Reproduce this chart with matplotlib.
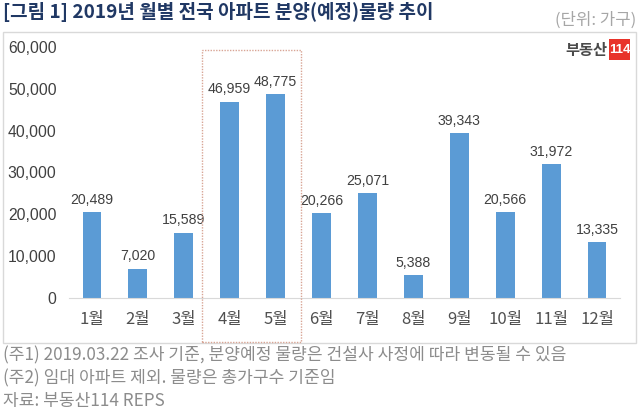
import matplotlib.pyplot as plt
from matplotlib.patches import Rectangle

plt.rcParams['font.family'] = ['Noto Sans CJK KR', 'DejaVu Sans']

months = ["1월", "2월", "3월", "4월", "5월", "6월", "7월", "8월", "9월", "10월", "11월", "12월"]
supply = [20489, 7020, 15589, 46959, 48775, 20266, 25071, 5388, 39343, 20566, 31972, 13335]
yticks = [0, 10000, 20000, 30000, 40000, 50000, 60000]

title = "[그림 1] 2019년 월별 전국 아파트 분양(예정)물량 추이"
unit = "(단위: 가구)"
notes = ["(주1) 2019.03.22 조사 기준, 분양예정 물량은 건설사 사정에 따라 변동될 수 있음",
         "(주2) 임대 아파트 제외. 물량은 총가구수 기준임",
         "자료: 부동산114 REPS"]

W, H = 640, 411
num_font = ["Liberation Sans", "DejaVu Sans"]
fig = plt.figure(figsize=(6.4, 4.11), dpi=100)
fig.patch.set_facecolor("white")

# outer light frame
fig.patches.append(Rectangle((3 / W, 1 - 343 / H), 633 / W, 311 / H, transform=fig.transFigure,
                             fill=False, edgecolor="#d9d9d9", linewidth=1.0))

ax = fig.add_axes([69 / W, 1 - 298 / H, 551 / W, 251 / H])
x = range(len(months))
ax.bar(x, supply, width=0.41, color="#5b9bd5")
for i, v in enumerate(supply):
    ax.text(i, v + 1300, f"{v:,}", ha="center", va="bottom", fontsize=10.2, color="#404040",
            family=num_font)

ax.set_xlim(-0.5, len(months) - 0.5)
ax.set_ylim(0, 60000)
ax.set_yticks(yticks)
ax.set_yticklabels([f"{t:,}" for t in yticks], fontsize=11.3, color="#404040", family=num_font)
ax.set_xticks(list(x))
ax.set_xticklabels(months, fontsize=12, color="#505050")
ax.tick_params(length=0, pad=9)
ax.tick_params(axis="x", pad=9)
for s in ["top", "right", "left"]:
    ax.spines[s].set_visible(False)
ax.spines["bottom"].set_color("#d9d9d9")

# highlight box around April-May
fig.patches.append(Rectangle((202 / W, 1 - 342 / H), 99 / W, 292 / H, transform=fig.transFigure,
                             fill=False, edgecolor="#d8a595", linewidth=1.0, linestyle=(0, (1, 1))))

fig.text(3 / W, 1 - 12 / H, title, fontsize=13.7, fontweight="bold", color="#203864", va="center")
fig.text(636 / W, 1 - 20 / H, unit, fontsize=12, color="#a6a6a6", va="center", ha="right")

# logo
fig.text(607 / W, 1 - 50 / H, "부동산", fontsize=11, fontweight="black", color="#4a4a4a",
         va="center", ha="right")
fig.patches.append(Rectangle((609 / W, 1 - 60 / H), 21 / W, 21 / H, transform=fig.transFigure,
                             facecolor="#e8332a", edgecolor="none"))
fig.text(619.5 / W, 1 - 50 / H, "114", fontsize=9.5, fontweight="bold", color="white",
         va="center", ha="center", family=num_font)

for k, n in enumerate(notes):
    fig.text(3 / W, 1 - (355 + k * 23) / H, n, fontsize=12.3, color="#8c8c8c", va="center")

fig.savefig("out.png", dpi=100)
